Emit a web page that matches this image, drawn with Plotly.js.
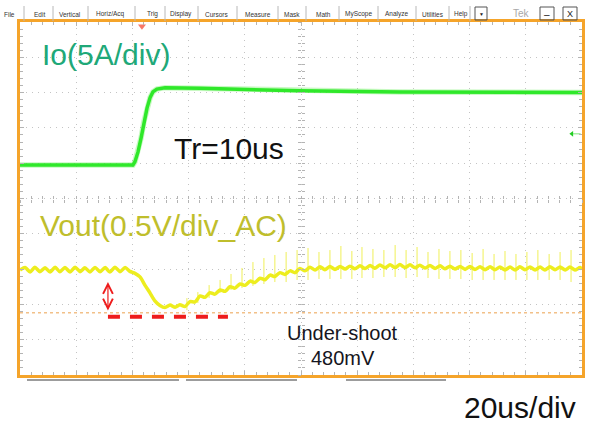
<!DOCTYPE html>
<html>
<head>
<meta charset="utf-8">
<script src="https://cdn.plot.ly/plotly-3.0.1.min.js"></script>
<style>html,body{margin:0;padding:0;background:#fff;}#chart{width:596px;height:425px;}</style>
</head>
<body>
<div id="chart"></div>
<script>
// ---------- data ----------
// time axis: 20 us/div, 10 divisions
const ioT = [0, 40.2, 40.9, 42.0, 43.1, 44.1, 45.2, 46.3, 47.3, 48.7, 51.6, 64.1, 99.6, 135.2, 200];
// Io in A (5 A/div)
const ioA = [-0.25, -0.25, 0.2, 1.6, 3.6, 5.9, 7.8, 9.3, 10.1, 10.5, 10.7, 10.6, 10.25, 10.1, 10.0];

const voutT = [0,1.8,3.6,5.3,7.1,8.9,10.7,12.5,14.2,16.0,
  17.8,19.6,21.4,23.1,24.9,26.7,28.5,30.3,32.0,33.8,
  35.6,37.4,39.1,40.9,42.7,44.5,46.3,48.0,49.8,51.6,
  53.4,55.2,56.9,58.7,60.5,62.3,64.1,65.8,67.6,69.4,
  71.2,73.0,74.7,76.5,78.3,80.1,81.9,83.6,85.4,87.2,
  89.0,90.7,92.5,94.3,96.1,97.9,99.6,101.4,103.2,105.0,
  106.8,108.5,110.3,112.1,113.9,115.7,117.4,119.2,121.0,122.8,
  124.6,126.3,128.1,129.9,131.7,133.5,135.2,137.0,138.8,140.6,
  142.3,144.1,145.9,147.7,149.5,151.2,153.0,154.8,156.6,158.4,
  160.1,161.9,163.7,165.5,167.3,169.0,170.8,172.6,174.4,176.2,
  177.9,179.7,181.5,183.3,185.1,186.8,188.6,190.4,192.2,194.0,
  195.7,197.5,199.3,200];
// Vout AC in mV (0.5 V/div)
const voutMv = [-13,22,-40,25,-36,20,-42,26,-38,22,
  -40,26,-36,18,-40,24,-38,22,-42,26,
  -36,22,-32,-60,-110,-230,-340,-450,-515,-545,
  -510,-540,-505,-530,-460,-465,-380,-400,-335,-355,
  -295,-315,-250,-270,-210,-230,-170,-190,-130,-150,
  -85,-105,-50,-75,-25,-50,10,-25,25,-12,
  32,-8,36,-4,36,0,42,4,46,8,
  50,12,58,18,60,22,64,22,60,18,
  56,14,50,10,46,5,42,0,38,-4,
  36,-4,32,-8,32,-8,28,-12,28,-12,
  32,-8,28,-12,28,-12,32,-8,28,-12,
  28,-12,22,0];

// switching spikes on Vout
const spikeT = [59.4,63.3,67.3,71.2,75.1,79.0,82.9,86.8,90.7,94.7,
  98.6,102.5,106.4,110.3,114.2,118.1,121.7,125.6,129.5,133.5,
  137.4,141.3,145.2,149.1,153.0,156.9,160.9,164.8,168.7,172.6,
  176.5,180.4,184.3,188.3,192.2,196.1];
const spikeTop = [-411,-325,-226,-154,-69,16,100,157,200,242,
  270,299,242,270,327,256,313,285,270,341,
  270,313,242,285,256,270,228,285,214,256,
  214,242,270,214,242,270];
const spikeBot = [-581,-480,-409,-338,-296,-268,-239,-211,-183,-183,
  -154,-154,-140,-140,-140,-140,-126,-126,-112,-112,
  -126,-112,-126,-140,-140,-140,-154,-154,-154,-154,
  -154,-154,-154,-154,-154,-183];

// cursor / undershoot markers (mV) and their time span (us)
const cursorMv = -617;
const dashMv = -674;
const dashT = [31.3, 74.0];
const arrowT = 31.3;
const arrowMv = [-183, -607];
const trigT = 43.4;
const trigLevelA = 4.16;

const menuItems = ['File','Edit','Vertical','Horiz/Acq','Trig','Display','Cursors','Measure','Mask','Math','MyScope','Analyze','Utilities','Help'];
const menuX = [9,39,70,110,152,181,217,258,292,323,358,397,433,461];
const menuSep = [24,53,88,135,165,198,237,278,306,339,378,416,449,470];

// ---------- geometry helpers ----------
const W = 596, H = 425, ML = 20, MR = 14, MT = 22, MB = 50;
const PW = W - ML - MR, PH = H - MT - MB;
const px = x => (x - ML) / PW;
const py = y => (H - MB - y) / PH;

// spikes as segments
const sx = [], sy = [];
for (let i = 0; i < spikeT.length; i++) {
  sx.push(spikeT[i], spikeT[i], null);
  sy.push(spikeTop[i], spikeBot[i], null);
}

const FONT = 'Liberation Sans, Arial, Helvetica, sans-serif';
const tickCol = '#b4b4b4';

const traces = [
  {x: ioT, y: ioA, xaxis: 'x', yaxis: 'y', mode: 'lines', line: {color: 'rgba(70,235,50,0.3)', width: 5.5}, hoverinfo: 'skip'},
  {x: ioT, y: ioA, xaxis: 'x', yaxis: 'y', mode: 'lines', line: {color: '#2fe82a', width: 3.5}, hoverinfo: 'skip'},
  {x: [0, 200], y: [cursorMv, cursorMv], xaxis: 'x', yaxis: 'y2', mode: 'lines', line: {color: '#f2c088', width: 1.5, dash: 'dot'}, hoverinfo: 'skip'},
  {x: sx, y: sy, xaxis: 'x', yaxis: 'y2', mode: 'lines', connectgaps: false, line: {color: 'rgba(238,238,70,0.9)', width: 1}, hoverinfo: 'skip'},
  {x: voutT, y: voutMv, xaxis: 'x', yaxis: 'y2', mode: 'lines', line: {color: '#eded1e', width: 3.5, shape: 'spline', smoothing: 0.7}, hoverinfo: 'skip'},
  {x: dashT, y: [dashMv, dashMv], xaxis: 'x', yaxis: 'y2', mode: 'lines', line: {color: '#ee1c1c', width: 4, dash: '12px,10px'}, hoverinfo: 'skip'},
  // ground markers
  {x: [-0.6], y: [-0.3], xaxis: 'x', yaxis: 'y', mode: 'markers+text', text: ['4'], textfont: {size: 5, color: '#063'},
   marker: {size: 10, color: '#2fe82a', line: {color: '#1a4a1a', width: 1.5}}, cliponaxis: false, hoverinfo: 'skip'},
  {x: [-0.6], y: [-10], xaxis: 'x', yaxis: 'y2', mode: 'markers+text', text: ['1'], textfont: {size: 5, color: '#663'},
   marker: {size: 10, color: '#f4e43a', line: {color: '#e8a020', width: 1.5}}, cliponaxis: false, hoverinfo: 'skip'},
  // trigger position marker (top) and trigger level marker (right)
  {x: [trigT], y: [19.4], xaxis: 'x', yaxis: 'y', mode: 'markers', marker: {symbol: 'triangle-down', size: 7, color: '#f87868'}, cliponaxis: false, hoverinfo: 'skip'},
  {x: [196.4, 199.5], y: [trigLevelA, trigLevelA], xaxis: 'x', yaxis: 'y', mode: 'lines', line: {color: '#7ee87a', width: 1}, hoverinfo: 'skip'},
  {x: [196.4], y: [trigLevelA], xaxis: 'x', yaxis: 'y', mode: 'markers', marker: {symbol: 'triangle-left', size: 5, color: '#22cc22'}, hoverinfo: 'skip'},
  // dummy traces for centre graticule axes
  {x: [null], y: [null], xaxis: 'x2', yaxis: 'y', mode: 'markers', hoverinfo: 'skip'},
  {x: [null], y: [null], xaxis: 'x3', yaxis: 'y', mode: 'markers', hoverinfo: 'skip'},
  {x: [null], y: [null], xaxis: 'x', yaxis: 'y3', mode: 'markers', hoverinfo: 'skip'},
  {x: [null], y: [null], xaxis: 'x', yaxis: 'y4', mode: 'markers', hoverinfo: 'skip'}
];

const centreAx = (dtick, minorDtick, side, extra) => Object.assign({
  range: null, showgrid: false, zeroline: false, showline: false, showticklabels: false,
  ticks: side, ticklen: 3, tickwidth: 1, tickcolor: tickCol, dtick: dtick, tick0: 0,
  minor: {dtick: minorDtick, ticks: side, ticklen: 3, tickwidth: 1, tickcolor: tickCol, showgrid: false},
  fixedrange: true
}, extra);

const annotations = [
  {text: 'Io(5A/div)', x: px(40), y: py(55), xref: 'paper', yref: 'paper', xanchor: 'left', yanchor: 'middle', showarrow: false,
   font: {family: FONT, size: 30, color: '#20a878'}},
  {text: 'Tr=10us', x: px(172), y: py(148), xref: 'paper', yref: 'paper', xanchor: 'left', yanchor: 'middle', showarrow: false,
   font: {family: FONT, size: 30, color: '#111111'}},
  {text: 'Vout(0.5V/div_AC)', x: px(38), y: py(225), xref: 'paper', yref: 'paper', xanchor: 'left', yanchor: 'middle', showarrow: false,
   font: {family: FONT, size: 30, color: '#bfbe2c'}},
  {text: 'Under-shoot', x: px(342), y: py(333), xref: 'paper', yref: 'paper', xanchor: 'center', yanchor: 'middle', showarrow: false,
   font: {family: FONT, size: 20, color: '#151520'}},
  {text: '480mV', x: px(343), y: py(358), xref: 'paper', yref: 'paper', xanchor: 'center', yanchor: 'middle', showarrow: false,
   font: {family: FONT, size: 20, color: '#151520'}},
  {text: '20us/div', x: px(520), y: py(407), xref: 'paper', yref: 'paper', xanchor: 'center', yanchor: 'middle', showarrow: false,
   font: {family: FONT, size: 30, color: '#111111'}},
  // red double arrow
  {x: arrowT, y: arrowMv[0], xref: 'x', yref: 'y2', ax: arrowT, ay: arrowMv[1], axref: 'x', ayref: 'y2', text: '',
   showarrow: true, arrowhead: 5, startarrowhead: 5, arrowside: 'end+start', arrowsize: 1.6, startarrowsize: 1.6,
   arrowwidth: 1.2, arrowcolor: '#ee1c1c', standoff: 0, startstandoff: 0},
  // title-bar items
  {text: 'Tek', x: px(521), y: py(13), xref: 'paper', yref: 'paper', xanchor: 'center', yanchor: 'middle', showarrow: false,
   font: {family: FONT, size: 10, color: '#a8a8a8'}},
  {text: '\u2013', x: px(547), y: py(14), xref: 'paper', yref: 'paper', xanchor: 'center', yanchor: 'middle', showarrow: false,
   font: {family: FONT, size: 10, color: '#222'}},
  {text: 'X', x: px(570), y: py(14), xref: 'paper', yref: 'paper', xanchor: 'center', yanchor: 'middle', showarrow: false,
   font: {family: FONT, size: 9, color: '#222'}},
  {text: '\u25BC', x: px(481), y: py(14), xref: 'paper', yref: 'paper', xanchor: 'center', yanchor: 'middle', showarrow: false,
   font: {family: FONT, size: 5, color: '#222'}}
];
menuItems.forEach((m, i) => annotations.push({
  text: m, x: px(menuX[i]), y: py(14), xref: 'paper', yref: 'paper', xanchor: 'center', yanchor: 'middle', showarrow: false,
  font: {family: FONT, size: 6.5, color: '#333'}
}));

const shapes = [];
menuSep.forEach(s => shapes.push({type: 'line', xref: 'paper', yref: 'paper', x0: px(s), x1: px(s), y0: py(6), y1: py(21),
  line: {color: '#b8b8b8', width: 1}}));
[[475, 487], [540, 554], [563, 577]].forEach(b => shapes.push({type: 'rect', xref: 'paper', yref: 'paper',
  x0: px(b[0]), x1: px(b[1]), y0: py(20), y1: py(7), line: {color: '#555', width: 1}, fillcolor: 'rgba(0,0,0,0)'}));
[[27, 179], [186, 297], [346, 446]].forEach(b => shapes.push({type: 'line', xref: 'paper', yref: 'paper',
  x0: px(b[0]), x1: px(b[1]), y0: py(380), y1: py(380), line: {color: '#9c9c9c', width: 2}}));

const layout = {
  width: W, height: H,
  margin: {l: ML, r: MR, t: MT, b: MB, pad: 0},
  paper_bgcolor: '#ffffff', plot_bgcolor: '#ffffff',
  showlegend: false,
  font: {family: FONT},
  xaxis: {range: [0, 200], dtick: 20, tick0: 0, showgrid: true, gridcolor: '#c4c4c4', griddash: '1px,5px', gridwidth: 1,
    zeroline: false, showline: true, linecolor: '#f5a42a', linewidth: 3, mirror: 'ticks',
    ticks: 'inside', ticklen: 4, tickwidth: 1, tickcolor: tickCol, showticklabels: false,
    minor: {dtick: 4, ticks: 'inside', ticklen: 3, tickwidth: 1, tickcolor: tickCol, showgrid: false}, fixedrange: true},
  yaxis: {range: [-30, 20], dtick: 5, tick0: 0, showgrid: true, gridcolor: '#c4c4c4', griddash: '1px,5px', gridwidth: 1,
    zeroline: false, showline: true, linecolor: '#f5a42a', linewidth: 3, mirror: 'ticks',
    ticks: 'inside', ticklen: 4, tickwidth: 1, tickcolor: tickCol, showticklabels: false,
    minor: {dtick: 1, ticks: 'inside', ticklen: 3, tickwidth: 1, tickcolor: tickCol, showgrid: false}, fixedrange: true},
  yaxis2: {range: [-1500, 3500], overlaying: 'y', visible: false, fixedrange: true},
  xaxis2: centreAx(20, 4, 'inside', {range: [0, 200], overlaying: 'x', anchor: 'free', position: 0.5}),
  xaxis3: centreAx(20, 4, 'outside', {range: [0, 200], overlaying: 'x', anchor: 'free', position: 0.5}),
  yaxis3: centreAx(5, 1, 'inside', {range: [-30, 20], overlaying: 'y', anchor: 'free', position: 0.5}),
  yaxis4: centreAx(5, 1, 'outside', {range: [-30, 20], overlaying: 'y', anchor: 'free', position: 0.5}),
  annotations: annotations,
  shapes: shapes
};

Plotly.newPlot('chart', traces, layout, {staticPlot: true, displayModeBar: false});
</script>
</body>
</html>
